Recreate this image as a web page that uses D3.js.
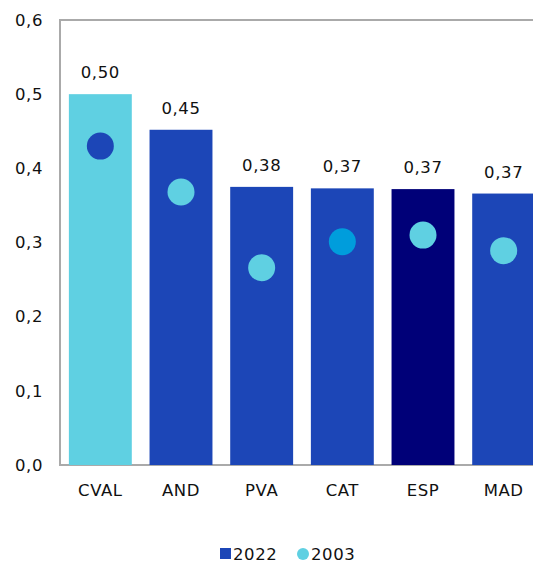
<!DOCTYPE html>
<html>
<head>
<meta charset="utf-8">
<script src="https://cdn.jsdelivr.net/npm/d3@7"></script>
<style>
  html, body { margin: 0; padding: 0; background: #fff; }
  svg { display: block; font-family: "DejaVu Sans", "Noto Sans", sans-serif; }
  svg text { letter-spacing: 0.6px; }
</style>
</head>
<body>
<svg id="chart" width="533" height="564"></svg>
<script>
// Regions and their indicator values
const categories = ["CVAL", "AND", "PVA", "CAT", "ESP", "MAD"];
const values2022 = [0.500, 0.452, 0.375, 0.373, 0.372, 0.366];
const labels2022 = ["0,50", "0,45", "0,38", "0,37", "0,37", "0,37"];
const values2003 = [0.430, 0.368, 0.266, 0.301, 0.310, 0.289];
const yTicks = [0, 0.1, 0.2, 0.3, 0.4, 0.5, 0.6];
const seriesNames = ["2022", "2003"];

// Per-region fill colours
const barColors = ["#5fd0e2", "#1c46b7", "#1c46b7", "#1c46b7", "#000078", "#1c46b7"];
const dotColors = ["#1c46b7", "#5fd0e2", "#5fd0e2", "#009ddc", "#5fd0e2", "#5fd0e2"];

const FONT = "DejaVu Sans, sans-serif";
const FS = 16.5;
const svg = d3.select("#chart");
const plotLeft = 60, plotTop = 20, plotBottom = 465, plotRight = 544;

const x = d3.scaleBand().domain(categories).range([plotLeft, plotRight])
  .paddingInner(0.22).paddingOuter(0.11);
const y = d3.scaleLinear().domain([0, 0.6]).range([plotBottom, plotTop]);

// Frame
svg.append("line").attr("x1", plotLeft).attr("x2", 533).attr("y1", plotTop).attr("y2", plotTop)
  .attr("stroke", "#aaa").attr("stroke-width", 2);
svg.append("line").attr("x1", plotLeft).attr("x2", 533).attr("y1", plotBottom).attr("y2", plotBottom)
  .attr("stroke", "#aaa").attr("stroke-width", 2);
svg.append("line").attr("x1", plotLeft).attr("x2", plotLeft).attr("y1", plotTop - 1).attr("y2", plotBottom + 1)
  .attr("stroke", "#aaa").attr("stroke-width", 2);

// Y axis labels
const yAxis = d3.axisLeft(y).tickValues(yTicks).tickSize(0).tickPadding(17)
  .tickFormat(d => d3.format(".1f")(d).replace(".", ","));
const ga = svg.append("g").attr("transform", `translate(${plotLeft},0)`).call(yAxis);
ga.select(".domain").remove();
ga.selectAll("text").attr("font-size", FS).attr("fill", "#111").attr("font-family", FONT);

// Bars
svg.append("g").selectAll("rect").data(categories).join("rect")
  .attr("x", d => x(d)).attr("width", x.bandwidth())
  .attr("y", (d, i) => y(values2022[i]))
  .attr("height", (d, i) => y(0) - y(values2022[i]))
  .attr("fill", (d, i) => barColors[i]);

// Value labels
svg.append("g").selectAll("text").data(categories).join("text")
  .attr("x", d => x(d) + x.bandwidth() / 2)
  .attr("y", (d, i) => y(values2022[i]) - 16)
  .attr("text-anchor", "middle").attr("font-size", FS).attr("fill", "#111")
  .text((d, i) => labels2022[i]);

// 2003 dots
svg.append("g").selectAll("circle").data(categories).join("circle")
  .attr("cx", d => x(d) + x.bandwidth() / 2)
  .attr("cy", (d, i) => y(values2003[i]))
  .attr("r", 13.5)
  .attr("fill", (d, i) => dotColors[i]);

// X axis labels
const xAxis = d3.axisBottom(x).tickSize(0).tickPadding(19);
const gx = svg.append("g").attr("transform", `translate(0,${plotBottom})`).call(xAxis);
gx.select(".domain").remove();
gx.selectAll("text").attr("font-size", FS).attr("fill", "#111").attr("font-family", FONT);

// Legend
const lg = svg.append("g");
lg.append("rect").attr("x", 220).attr("y", 548).attr("width", 11).attr("height", 11).attr("fill", "#1c46b7");
lg.append("text").attr("x", 233).attr("y", 560).attr("font-size", FS).attr("fill", "#111").text(seriesNames[0]);
lg.append("circle").attr("cx", 303).attr("cy", 554).attr("r", 6).attr("fill", "#5fd0e2");
lg.append("text").attr("x", 311).attr("y", 560).attr("font-size", FS).attr("fill", "#111").text(seriesNames[1]);
</script>
</body>
</html>
